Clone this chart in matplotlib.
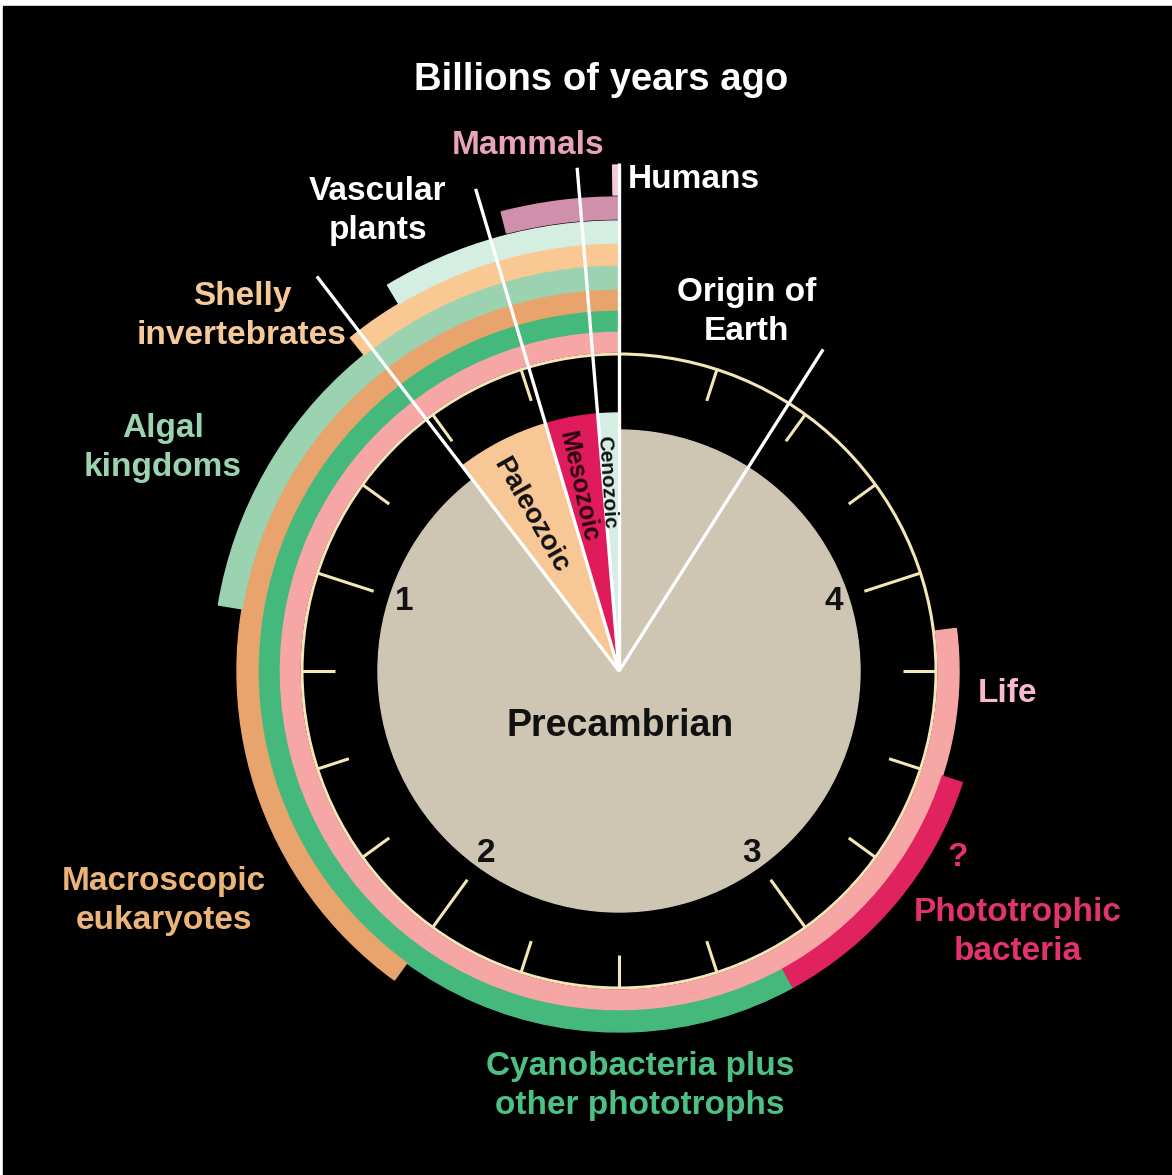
import numpy as np
import matplotlib
import matplotlib.pyplot as plt
from matplotlib.patches import Wedge, Circle, Rectangle

plt.rcParams['font.family'] = ['Liberation Sans', 'DejaVu Sans']

# degrees of clock face per billion years (full turn = 5 Byr)
deg_per_byr = 72.0

# geological eras (billions of years ago)
era_names = ['Cenozoic', 'Mesozoic', 'Paleozoic']
era_start = [0.0, 0.066, 0.23]
era_end = [0.066, 0.23, 0.52]

# life rings, innermost first: appearance time in Byr ago
ring_names = ['Life', 'Cyanobacteria plus\nother phototrophs', 'Macroscopic\neukaryotes',
              'Algal\nkingdoms', 'Shelly\ninvertebrates', 'Vascular\nplants', 'Mammals', 'Humans']
ring_start = [3.85, 2.9, 2.0, 1.12, 0.54, 0.43, 0.2, 0.01]
phototrophic_start = 2.9
phototrophic_end = 3.5
origin_of_earth = 4.55

clock_numbers = [1, 2, 3, 4]

cx, cy = 619, 1175 - 671

fig = plt.figure(figsize=(11.72, 11.75), dpi=100, facecolor='white')
ax = fig.add_axes([0, 0, 1, 1])
ax.set_xlim(0, 1172)
ax.set_ylim(0, 1175)
ax.axis('off')

ax.add_patch(Rectangle((3, 0), 1169, 1169, color='black', zorder=0))


def theta(t):
    return 90 + deg_per_byr * t


def pt(t, r):
    a = np.deg2rad(theta(t))
    return cx + r * np.cos(a), cy + r * np.sin(a)


# clock face
ax.add_patch(Circle((cx, cy), 241, color='#CEC6B3', zorder=1))
era_colors = ['#D4EEE3', '#E01B5C', '#F7C896']
for i in range(len(era_names)):
    ax.add_patch(Wedge((cx, cy), 258, theta(era_start[i]), theta(era_end[i]),
                       color=era_colors[i], zorder=2))

cream = '#F4E6B6'
ax.add_patch(Circle((cx, cy), 317, fill=False, edgecolor=cream, linewidth=2.2, zorder=3))
for k in range(1, 20):
    t = k * 0.25
    r_in = 258 if k % 4 == 0 else 284
    x0, y0 = pt(t, r_in)
    x1, y1 = pt(t, 317)
    ax.plot([x0, x1], [y0, y1], color=cream, linewidth=2.2, zorder=3, solid_capstyle='butt')

for n in clock_numbers:
    x, y = pt(n, 226)
    ax.text(x, y, str(n), fontsize=24, fontweight='bold', color='#111111',
            ha='center', va='center', zorder=5)

# life rings
ring_colors = ['#F7A6A6', '#45B97C', '#E8A46C', '#9BD3B0', '#F9C893', '#D5EEE2', '#D08FAA', '#F2C9D9']
ring_inner = [319, 340, 361, 382, 406, 428, 452, 476]
ring_width = [21, 21, 21, 24, 22, 22, 22, 30]
for i in range(len(ring_names)):
    ax.add_patch(Wedge((cx, cy), ring_inner[i] + ring_width[i], theta(0), theta(ring_start[i]),
                       width=ring_width[i], color=ring_colors[i], zorder=4))
ax.add_patch(Wedge((cx, cy), ring_inner[1] + ring_width[1], theta(phototrophic_start),
                   theta(phototrophic_end), width=ring_width[1], color='#E0225E', zorder=4))

# pointer lines from the centre
pointer_t = [0.0, era_start[1], era_start[2], era_end[2], origin_of_earth]
pointer_r = [508, 505, 503, 497, 381]
for t, r in zip(pointer_t, pointer_r):
    x1, y1 = pt(t, r)
    ax.plot([cx, x1], [cy, y1], color='white', linewidth=2.4, zorder=6, solid_capstyle='butt')

# era labels along the wedges
era_label_pos = [(607, 482), (578, 486), (531, 515)]
era_label_size = [15, 18, 20]
era_label_color = ['#111111', '#2a0010', '#111111']
for i in range(len(era_names)):
    x, y = era_label_pos[i]
    ang = np.degrees(np.arctan2(cx - x, (1175 - y) - cy))
    ax.text(x, 1175 - y, era_names[i], fontsize=era_label_size[i], fontweight='bold',
            color=era_label_color[i], rotation=-(90 - abs(ang)), rotation_mode='anchor',
            ha='center', va='center', zorder=7)

ax.text(620, 1175 - 726, 'Precambrian', fontsize=27, fontweight='bold', color='#111111',
        ha='center', va='center', zorder=7)


# outer labels
def label(x, y, s, color, size=24):
    ax.text(x, 1175 - y, s, fontsize=size, fontweight='bold', color=color,
            ha='center', va='center', linespacing=1.32, zorder=8)


label(601, 80, 'Billions of years ago', 'white', 27.5)
label(528, 145, 'Mammals', '#E8A3BD')
label(694, 180, 'Humans', 'white')
label(378, 211, 'Vascular\nplants', 'white')
label(242, 316, 'Shelly\ninvertebrates', '#F6C99A')
label(747, 312, 'Origin of\nEarth', 'white')
label(163, 448, 'Algal\nkingdoms', '#9BD3B0')
label(1008, 693, 'Life', '#F8BACB')
label(958, 858, '?', '#E3336C')
label(1018, 932, 'Phototrophic\nbacteria', '#E3336C')
label(164, 901, 'Macroscopic\neukaryotes', '#EDB47A')
label(640, 1086, 'Cyanobacteria plus\nother phototrophs', '#4CC183')

fig.savefig('out.png', dpi=100, facecolor='white')
